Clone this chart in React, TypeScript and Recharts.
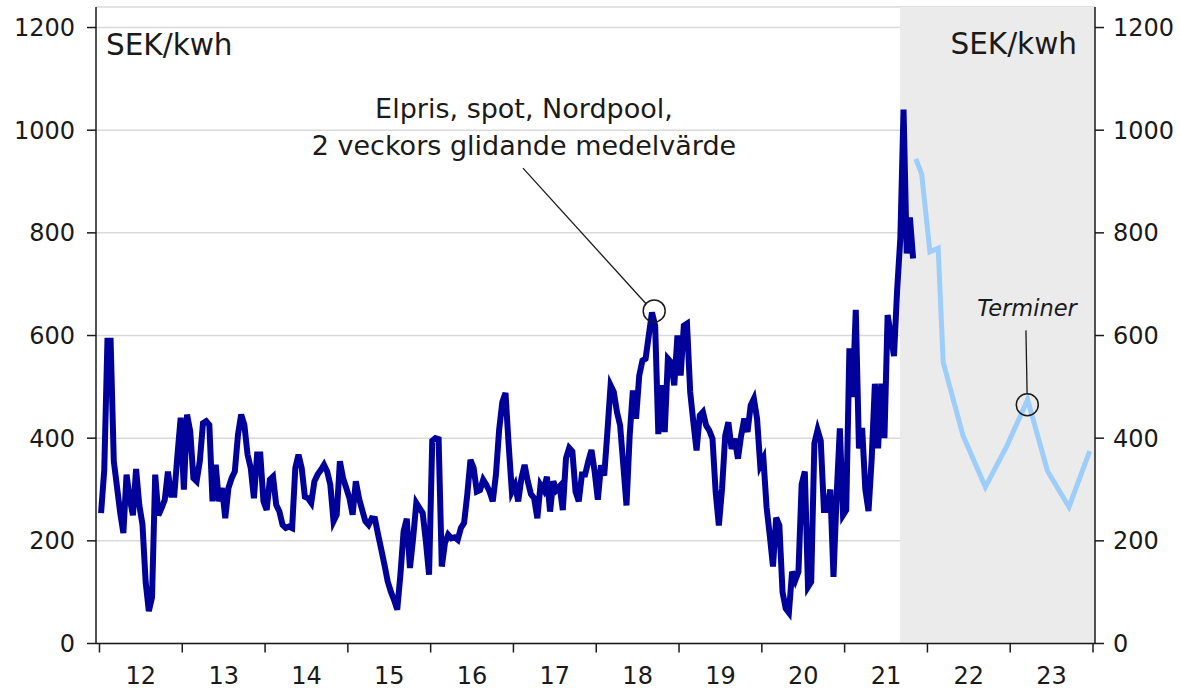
import React from "react";
import {
  ComposedChart,
  Line,
  XAxis,
  YAxis,
  CartesianGrid,
  ReferenceArea,
  ReferenceDot,
  ReferenceLine,
} from "recharts";

// ---- data ----
// Spot price, Nordpool, 2-week moving average; biweekly samples per year
const spot2012 = [254, 338, 590, 590, 355, 305, 255, 215, 329, 283, 250, 340, 270, 232, 120, 63, 90, 329, 250, 264, 280, 335, 290, 290, 368, 440];
const spot2013 = [300, 446, 413, 322, 316, 355, 429, 433, 426, 277, 348, 277, 303, 244, 303, 322, 335, 407, 446, 426, 368, 342, 283, 368, 368, 277];
const spot2014 = [260, 319, 325, 270, 257, 231, 225, 228, 225, 342, 368, 342, 286, 283, 274, 316, 329, 338, 348, 335, 309, 238, 251, 355, 322, 303];
const spot2015 = [283, 251, 316, 283, 260, 238, 231, 244, 243, 212, 183, 153, 121, 101, 85, 66, 134, 218, 243, 147, 205, 274, 264, 254, 199, 134];
const spot2016 = [395, 400, 398, 150, 196, 212, 205, 207, 202, 225, 235, 290, 358, 342, 296, 299, 319, 309, 296, 277, 329, 416, 470, 488, 387, 296];
const spot2017 = [309, 277, 322, 348, 316, 291, 283, 244, 309, 299, 325, 257, 316, 299, 306, 260, 361, 381, 374, 296, 277, 329, 329, 355, 377, 335];
const spot2018 = [280, 347, 327, 412, 503, 490, 451, 425, 347, 269, 405, 493, 438, 522, 551, 555, 600, 645, 619, 408, 503, 412, 555, 548, 503, 600];
const spot2019 = [522, 619, 623, 490, 431, 376, 444, 451, 425, 415, 399, 295, 230, 301, 405, 431, 379, 399, 360, 405, 438, 412, 464, 477, 438, 347];
const spot2020 = [360, 265, 210, 150, 245, 230, 100, 68, 60, 140, 123, 140, 310, 335, 110, 120, 390, 416, 395, 260, 260, 300, 130, 290, 419, 250];
const spot2021 = [260, 575, 480, 650, 380, 420, 300, 258, 360, 506, 380, 506, 400, 640, 600, 560, 690, 790, 1040, 760, 830, 750];

// Futures ("Terminer")
const futuresDates = [2021.86, 2021.93, 2022.03, 2022.13, 2022.19, 2022.43, 2022.7, 2022.96, 2023.21, 2023.45, 2023.71, 2023.96];
const futuresValues = [944, 915, 763, 770, 548, 405, 305, 385, 475, 336, 266, 375];

// Axes
const yTicks = [0, 200, 400, 600, 800, 1000, 1200];
const yearBoundaries = [2012, 2013, 2014, 2015, 2016, 2017, 2018, 2019, 2020, 2021, 2022, 2023, 2024];
const yearLabels = ["12", "13", "14", "15", "16", "17", "18", "19", "20", "21", "22", "23"];
const forecastStart = 2021.668;

// Annotation anchors (data coordinates)
const spotMarker = { t: 2018.7, v: 648 };
const spotLeader = [{ x: 2017.115, y: 926 }, { x: 2018.607, y: 661 }];
const futMarker = { t: 2023.206, v: 465 };
const futLeader = [{ x: 2023.19, y: 610 }, { x: 2023.204, y: 486 }];

const XMIN = 2011.958;
const XMAX = 2024.024;
const YMAX = 1240;

const spotYears: [number, number[]][] = [
  [2012, spot2012], [2013, spot2013], [2014, spot2014], [2015, spot2015], [2016, spot2016],
  [2017, spot2017], [2018, spot2018], [2019, spot2019], [2020, spot2020], [2021, spot2021],
];
const spotData = spotYears.flatMap(([yr, vals]) =>
  vals.map((v, i) => ({ t: yr + (i + 0.5) / 26, v }))
);
const futuresData = futuresDates.map((t, i) => ({ t, v: futuresValues[i] }));

const FONT = "'DejaVu Sans', sans-serif";
const INK = "#1a1a1a";

const CHART_W = 1180;
const LEFT_W = 96;
const RIGHT_W = 85;
const HALF_YEAR_PX = (CHART_W - LEFT_W - RIGHT_W) / (XMAX - XMIN) / 2;

function YearTick(props: any) {
  const { x, y, payload } = props;
  const idx = yearBoundaries.indexOf(payload.value);
  const label = idx >= 0 && idx < yearLabels.length ? yearLabels[idx] : null;
  return (
    <g>
      <line x1={x} y1={y} x2={x} y2={y + 9} stroke={INK} strokeWidth={1.5} />
      {label && (
        <text x={x + HALF_YEAR_PX} y={y + 40} textAnchor="middle" fontSize={24} fontFamily={FONT} fill={INK}>
          {label}
        </text>
      )}
    </g>
  );
}

export default function App() {
  return (
    <div style={{ position: "absolute", left: 0, top: 0, width: 1180, height: 691, background: "#fff" }}>
      <ComposedChart width={CHART_W} height={691} margin={{ top: 7, right: 0, bottom: 0, left: 0 }}>
        <ReferenceArea
          xAxisId="main"
          yAxisId="left"
          x1={forecastStart}
          x2={XMAX}
          y1={0}
          y2={YMAX}
          fill="#ebebeb"
          fillOpacity={1}
          stroke="none"
        />
        <CartesianGrid xAxisId="main" yAxisId="left" vertical={false} stroke="#d9d9d9" strokeWidth={1.5} />
        <XAxis
          xAxisId="main"
          type="number"
          dataKey="t"
          domain={[XMIN, XMAX]}
          allowDataOverflow
          ticks={yearBoundaries}
          tick={<YearTick />}
          tickSize={0}
          tickMargin={0}
          tickLine={false}
          axisLine={{ stroke: INK, strokeWidth: 1.5 }}
          height={47.5}
          interval={0}
        />
        <YAxis
          yAxisId="left"
          orientation="left"
          width={LEFT_W}
          type="number"
          domain={[0, YMAX]}
          allowDataOverflow
          ticks={yTicks}
          tickSize={9}
          tickMargin={12}
          tickLine={{ stroke: INK, strokeWidth: 1.5 }}
          axisLine={{ stroke: INK, strokeWidth: 1.5 }}
          tick={{ fontSize: 24, fill: INK, fontFamily: FONT }}
        />
        <YAxis
          yAxisId="right"
          orientation="right"
          width={RIGHT_W}
          type="number"
          domain={[0, YMAX]}
          allowDataOverflow
          ticks={yTicks}
          tickSize={9}
          tickMargin={9}
          tickLine={{ stroke: INK, strokeWidth: 1.5 }}
          axisLine={{ stroke: INK, strokeWidth: 1.5 }}
          tick={{ fontSize: 24, fill: INK, fontFamily: FONT }}
        />
        <Line
          xAxisId="main"
          yAxisId="left"
          data={spotData}
          dataKey="v"
          type="linear"
          stroke="#00009b"
          strokeWidth={6}
          dot={false}
          activeDot={false}
          isAnimationActive={false}
        />
        <Line
          xAxisId="main"
          yAxisId="left"
          data={futuresData}
          dataKey="v"
          type="linear"
          stroke="#9dcdfa"
          strokeWidth={5}
          dot={false}
          activeDot={false}
          isAnimationActive={false}
        />
        <ReferenceLine xAxisId="main" yAxisId="left" segment={spotLeader} stroke={INK} strokeWidth={1.3} ifOverflow="visible" />
        <ReferenceLine xAxisId="main" yAxisId="left" segment={futLeader} stroke={INK} strokeWidth={1.3} ifOverflow="visible" />
        <ReferenceDot xAxisId="main" yAxisId="left" x={spotMarker.t} y={spotMarker.v} r={11} fill="none" stroke={INK} strokeWidth={1.5} ifOverflow="visible" />
        <ReferenceDot xAxisId="main" yAxisId="left" x={futMarker.t} y={futMarker.v} r={11} fill="none" stroke={INK} strokeWidth={1.5} ifOverflow="visible" />
      </ComposedChart>
      <svg
        width={1180}
        height={691}
        style={{ position: "absolute", left: 0, top: 0, pointerEvents: "none" }}
        fontFamily={FONT}
        fill={INK}
      >
        <text x={106} y={55} fontSize={29.5}>SEK/kwh</text>
        <text x={1077} y={54} fontSize={29.5} textAnchor="end">SEK/kwh</text>
        <text x={524} y={118} fontSize={27} textAnchor="middle">Elpris, spot, Nordpool,</text>
        <text x={524} y={155} fontSize={27} textAnchor="middle">2 veckors glidande medelvärde</text>
        <text x={1027} y={316} fontSize={22.5} fontStyle="italic" textAnchor="middle">Terminer</text>
      </svg>
    </div>
  );
}
